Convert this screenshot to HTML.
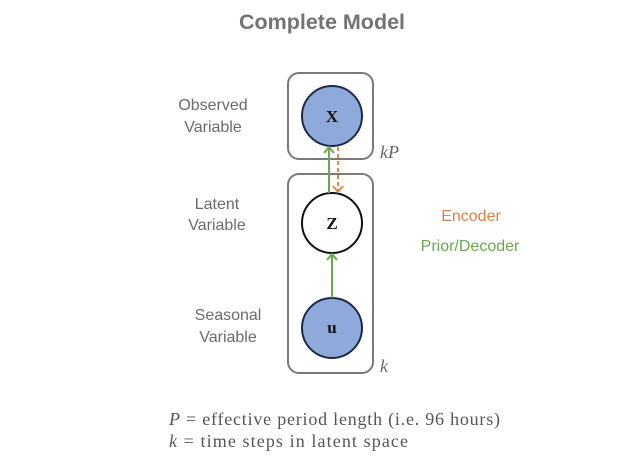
<!DOCTYPE html>
<html><head><meta charset="utf-8"><style>
html,body{margin:0;padding:0;background:#fff;}
body{width:640px;height:453px;overflow:hidden;}
</style></head><body>
<svg width="640" height="453" viewBox="0 0 640 453" xmlns="http://www.w3.org/2000/svg">
<text x="322" y="29" text-anchor="middle" font-family="Liberation Sans, sans-serif" font-weight="bold" font-size="21.5" fill="#737373">Complete Model</text>
<g font-family="Liberation Sans, sans-serif" font-size="16" fill="#6b6b6b" text-anchor="middle">
<text x="213" y="110">Observed</text><text x="213" y="132">Variable</text>
<text x="217" y="209">Latent</text><text x="217" y="230">Variable</text>
<text x="228" y="320">Seasonal</text><text x="228" y="342">Variable</text>
</g>
<text x="471" y="221" text-anchor="middle" font-family="Liberation Sans, sans-serif" font-size="16" fill="#d9824b">Encoder</text>
<text x="470" y="251" text-anchor="middle" font-family="Liberation Sans, sans-serif" font-size="16" fill="#6aa84f">Prior/Decoder</text>
<rect x="288" y="73" width="85" height="86" rx="11" fill="none" stroke="#7a7a7a" stroke-width="2"/>
<rect x="288" y="174" width="85" height="199" rx="11" fill="none" stroke="#7a7a7a" stroke-width="2"/>
<circle cx="332" cy="116" r="30" fill="#8eaadb" stroke="#1e2a48" stroke-width="2"/>
<circle cx="332" cy="223" r="30" fill="#fff" stroke="#111" stroke-width="2"/>
<circle cx="332" cy="328" r="30" fill="#8eaadb" stroke="#1e2a48" stroke-width="2"/>
<g font-family="Liberation Serif, serif" font-weight="bold" font-size="17" fill="#111" text-anchor="middle">
<text x="332" y="122">X</text><text x="332" y="229">Z</text><text x="332" y="333">u</text>
</g>
<g stroke="#6aa84f" stroke-width="2" fill="none">
<line x1="329" y1="193" x2="329" y2="147"/><polyline points="324,153 329,147 334,153"/>
<line x1="332" y1="298" x2="332" y2="254"/><polyline points="327,260 332,254 337,260"/>
</g>
<g stroke="#e08a4c" stroke-width="2" fill="none">
<line x1="338" y1="147" x2="338" y2="192" stroke-dasharray="4,3"/><polyline points="333,186 338,192 343,186"/>
</g>
<g font-family="Liberation Serif, serif" font-style="italic" font-size="18" fill="#666">
<text x="380" y="158">kP</text><text x="380" y="372">k</text>
</g>
<g font-family="Liberation Serif, serif" font-size="18" fill="#555">
<text x="169" y="425" textLength="331" lengthAdjust="spacing"><tspan font-style="italic">P</tspan> = effective period length (i.e. 96 hours)</text>
<text x="169" y="447" textLength="239" lengthAdjust="spacing"><tspan font-style="italic">k</tspan> = time steps in latent space</text>
</g>
</svg>
</body></html>
